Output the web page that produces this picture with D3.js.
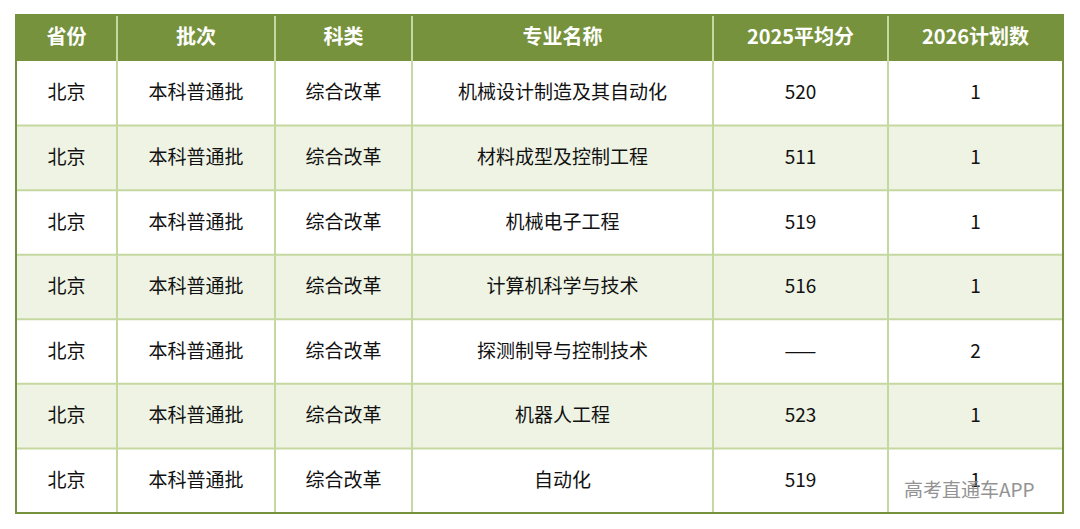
<!DOCTYPE html>
<html><head><meta charset="utf-8">
<script src="https://cdn.jsdelivr.net/npm/d3@7"></script>
<style>body{margin:0;background:#fff;}</style>
</head><body><div id="chart"></div>
<script>
var headers = ["省份", "批次", "科类", "专业名称", "2025平均分", "2026计划数"];
var provinces = ["北京", "北京", "北京", "北京", "北京", "北京", "北京"];
var batches = ["本科普通批", "本科普通批", "本科普通批", "本科普通批", "本科普通批", "本科普通批", "本科普通批"];
var subjects = ["综合改革", "综合改革", "综合改革", "综合改革", "综合改革", "综合改革", "综合改革"];
var majors = ["机械设计制造及其自动化", "材料成型及控制工程", "机械电子工程", "计算机科学与技术", "探测制导与控制技术", "机器人工程", "自动化"];
var scores = ["520", "511", "519", "516", "——", "523", "519"];
var plans = [1, 1, 1, 1, 2, 1, 1];

var colWidths = [101, 158, 137, 301, 175, 175];
var svgWidth = 1080, svgHeight = 529;
var tableLeft = 16, tableTop = 15, headH = 46, tableBottom = 513;

var rows = majors.map(function(m, i) {
  return [provinces[i], batches[i], subjects[i], m, scores[i], String(plans[i])];
});

var edges = [0];
colWidths.forEach(function(w) { edges.push(edges[edges.length - 1] + w); });
var xScale = d3.scaleLinear().domain([0, edges[edges.length - 1]]).range([tableLeft, 1063]);
var yScale = d3.scaleBand().domain(d3.range(rows.length)).range([tableTop + headH, tableBottom]);
var tableW = xScale(edges[6]) - tableLeft;

var svg = d3.select("#chart").append("svg")
  .attr("width", svgWidth).attr("height", svgHeight)
  .style("font-family", "'Noto Sans CJK SC', sans-serif");

// header
svg.append("rect").attr("x", tableLeft).attr("y", tableTop)
  .attr("width", tableW).attr("height", headH).attr("fill", "#76923c");
svg.selectAll(".head").data(headers).enter().append("text")
  .attr("class", "head")
  .attr("x", (d, i) => (xScale(edges[i]) + xScale(edges[i + 1])) / 2)
  .attr("y", tableTop + headH / 2 + 1)
  .attr("text-anchor", "middle").attr("dominant-baseline", "middle")
  .attr("fill", "#fff").style("font-size", "20px").style("font-weight", "bold")
  .text(d => d);

// body rows
svg.selectAll(".band").data(rows).enter().append("rect")
  .attr("class", "band")
  .attr("x", tableLeft).attr("y", (d, i) => yScale(i))
  .attr("width", tableW).attr("height", yScale.bandwidth())
  .attr("fill", (d, i) => i % 2 ? "#eef3e4" : "#fff");

rows.forEach(function(r, i) {
  svg.selectAll(".c" + i).data(r).enter().append("text")
    .attr("class", "c" + i)
    .attr("x", (d, j) => (xScale(edges[j]) + xScale(edges[j + 1])) / 2)
    .attr("y", yScale(i) + yScale.bandwidth() / 2 + 1)
    .attr("text-anchor", "middle").attr("dominant-baseline", "middle")
    .attr("fill", "#111").style("font-size", "19px")
    .text(d => d);
});

// grid lines
svg.selectAll(".hl").data(d3.range(1, rows.length)).enter().append("line")
  .attr("class", "hl")
  .attr("x1", tableLeft).attr("x2", xScale(edges[6]))
  .attr("y1", d => yScale(d)).attr("y2", d => yScale(d))
  .attr("stroke", "#c5d8a0").attr("stroke-width", 2);
svg.selectAll(".vl").data(edges.slice(1, -1)).enter().append("line")
  .attr("class", "vl")
  .attr("x1", d => xScale(d)).attr("x2", d => xScale(d))
  .attr("y1", tableTop).attr("y2", tableBottom)
  .attr("stroke", "#c5d8a0").attr("stroke-width", 2);
svg.append("rect").attr("x", tableLeft).attr("y", tableTop)
  .attr("width", tableW).attr("height", tableBottom - tableTop)
  .attr("fill", "none").attr("stroke", "#76923c").attr("stroke-width", 2);

// watermark
svg.append("text").attr("x", 904).attr("y", 497)
  .attr("fill", "#888").attr("opacity", 0.9).style("font-size", "19px")
  .text("高考直通车APP");
</script></body></html>
